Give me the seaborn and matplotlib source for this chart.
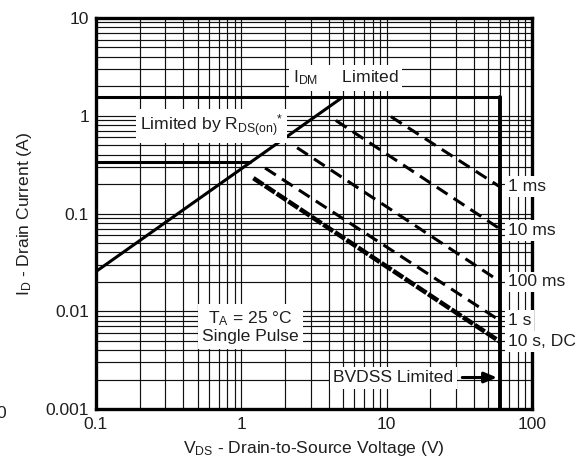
import numpy as np
import pandas as pd
import matplotlib
matplotlib.use("Agg")
import matplotlib.pyplot as plt
from matplotlib.ticker import FixedLocator, NullFormatter, LogLocator
import seaborn as sns

# ---- data ----
idm_v = [0.1, 60.0]
idm_i = [1.54, 1.54]
cont_v = [0.1, 1.15]
cont_i = [0.333, 0.333]
rds_v = [0.1, 4.95]
rds_i = [0.0255, 1.54]
bv_v = [60.0, 60.0]
bv_i = [0.001, 1.54]

ms1_v = [10.7, 60.0]
ms1_i = [0.98, 0.188]
ms10_v = [4.47, 60.0]
ms10_i = [0.895, 0.0698]
ms100_v = [2.42, 60.0]
ms100_i = [0.471, 0.0202]
s1_v = [1.456, 60.0]
s1_i = [0.292, 0.00805]
dc_v = [1.21, 60.0]
dc_i = [0.23, 0.0049]

x_ticks = [0.1, 1, 10, 100]
x_ticklabels = ["0.1", "1", "10", "100"]
y_ticks = [0.001, 0.01, 0.1, 1, 10]
y_ticklabels = ["0.001", "0.01", "0.1", "1", "10"]

pulse_labels = ["1 ms", "10 ms", "100 ms", "1 s", "10 s, DC"]
pulse_label_i = [0.188, 0.0667, 0.020, 0.0080, 0.00488]

sns.set_theme(style="white")
plt.rcParams["font.family"] = ["Liberation Sans", "DejaVu Sans"]
plt.rcParams["mathtext.fontset"] = "custom"
plt.rcParams["mathtext.rm"] = "Liberation Sans"
plt.rcParams["mathtext.it"] = "Liberation Sans:italic"
plt.rcParams["mathtext.bf"] = "Liberation Sans:bold"

FS = 12.6
TXT = "#1e1e1e"
fig = plt.figure(figsize=(5.82, 4.59), dpi=100)
ax = fig.add_axes([96 / 582, 1 - 409 / 459, (532 - 96) / 582, (409 - 18) / 459])
ax.set_xscale("log")
ax.set_yscale("log")
ax.set_xlim(0.1, 100)
ax.set_ylim(0.001, 10)

# grid
ax.xaxis.set_minor_locator(LogLocator(base=10, subs=np.arange(2, 10)))
ax.yaxis.set_minor_locator(LogLocator(base=10, subs=np.arange(2, 10)))
ax.xaxis.set_minor_formatter(NullFormatter())
ax.yaxis.set_minor_formatter(NullFormatter())
ax.grid(which="both", color="#111111", lw=0.85, zorder=0.5)
ax.set_axisbelow(True)

def draw(v, i, **kw):
    df = pd.DataFrame({"v": v, "i": i})
    return sns.lineplot(data=df, x="v", y="i", estimator=None, sort=False,
                        color="black", legend=False, ax=ax, zorder=3, **kw)

draw(idm_v, idm_i, lw=2.2)
draw(cont_v, cont_i, lw=2.2)
draw(rds_v, rds_i, lw=2.2)
draw(bv_v, bv_i, lw=2.8)

for v, i in [(ms1_v, ms1_i), (ms10_v, ms10_i), (ms100_v, ms100_i), (s1_v, s1_i)]:
    draw(v, i, lw=2.2)
    ax.lines[-1].set_dashes([4.2, 2.4])
draw(dc_v, dc_i, lw=3.3)
ax.lines[-1].set_dashes([2.6, 0.45])

# spines
for s in ax.spines.values():
    s.set_linewidth(2.4)
    s.set_color("black")
    s.set_zorder(3.5)

ax.xaxis.set_major_locator(FixedLocator(x_ticks))
ax.yaxis.set_major_locator(FixedLocator(y_ticks))
ax.set_xticklabels(x_ticklabels)
ax.set_yticklabels(y_ticklabels)
ax.tick_params(which="both", length=0, labelsize=FS, colors=TXT)
ax.tick_params(axis="x", pad=6)
ax.tick_params(axis="y", pad=5)

ax.set_xlabel(r"V$_{\mathrm{DS}}$ - Drain-to-Source Voltage (V)", fontsize=FS, color=TXT, labelpad=5)
ax.set_ylabel(r"I$_{\mathrm{D}}$ - Drain Current (A)", fontsize=FS, color=TXT, labelpad=8)

box = dict(facecolor="white", edgecolor="none", pad=2.5)
ax.text(2.25, 2.45, r"I$_{\mathrm{DM}}$     Limited", fontsize=FS, ha="left", va="center",
        bbox=box, zorder=6, color=TXT)
ax.text(0.2, 0.79, r"Limited by R$_{\mathrm{DS(on)}}{}^{*}$", fontsize=FS, ha="left", va="center",
        bbox=box, zorder=6, color=TXT)
ax.text(1.15, 0.0069, "T$_{\\mathrm{A}}$ = 25 °C\nSingle Pulse", fontsize=FS, ha="center", va="center",
        bbox=dict(facecolor="white", edgecolor="none", pad=3), zorder=6, color=TXT,
        linespacing=1.1)
for lab, yi in zip(pulse_labels, pulse_label_i):
    ax.text(68.5, yi, lab, fontsize=FS, ha="left", va="center",
            bbox=dict(facecolor="white", edgecolor="none", pad=2.0),
            zorder=6, color=TXT, clip_on=False)
ax.annotate("BVDSS Limited", xy=(57.5, 0.0021), xytext=(4.28, 0.0021), fontsize=FS,
            ha="left", va="center", color=TXT, zorder=6,
            bbox=dict(facecolor="white", edgecolor="none", pad=2.5),
            arrowprops=dict(arrowstyle="-|>,head_length=0.6,head_width=0.25", lw=2.2, color="black",
                            shrinkA=4, shrinkB=0))

fig.text(-4 / 582, 1 - 413 / 459, "0", fontsize=FS, ha="left", va="center", color=TXT)

fig.savefig("out.png", dpi=100)
